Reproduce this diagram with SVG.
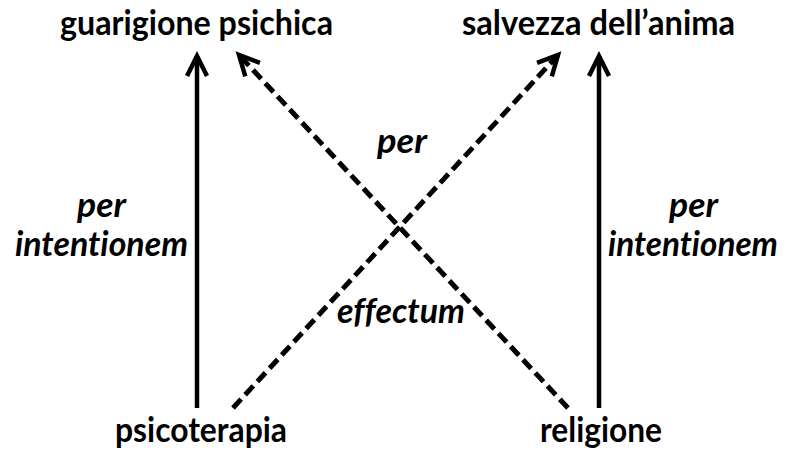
<svg xmlns="http://www.w3.org/2000/svg" width="786" height="452" viewBox="0 0 786 452">
  <style>
    .lbl { font-family: Lato, "Liberation Sans", sans-serif; font-weight: bold; font-size: 35px; fill: #000; font-variant-ligatures: none; font-feature-settings: "liga" 0, "clig" 0; }
    .it { font-style: italic; }
    .solid { stroke: #000; stroke-width: 4.5; fill: none; }
    .dash { stroke: #000; stroke-width: 5; fill: none; stroke-dasharray: 12 6; }
  </style>
  <defs>
    <marker id="arr" markerUnits="userSpaceOnUse" viewBox="-25 -15 30 30" refX="0" refY="0" markerWidth="30" markerHeight="30" orient="auto">
      <path d="M-20,-10 L0,0 L-20,10" fill="none" stroke="#000" stroke-width="4.5" stroke-linejoin="miter" stroke-miterlimit="10"/>
    </marker>
  </defs>
  <rect width="786" height="452" fill="#fff"/>

  <g id="connectors">
    <line class="solid" x1="197" y1="408" x2="197" y2="56" marker-end="url(#arr)"/>
    <line class="solid" x1="599" y1="408" x2="599" y2="56" marker-end="url(#arr)"/>
    <line class="dash" x1="233" y1="408" x2="558" y2="55" marker-end="url(#arr)"/>
    <line class="dash" x1="568" y1="408" x2="239" y2="55" marker-end="url(#arr)"/>
  </g>

  <g id="guarigione">
    <text class="lbl" x="60" y="35" textLength="273" lengthAdjust="spacingAndGlyphs">guarigione psichica</text>
  </g>
  <g id="salvezza">
    <text class="lbl" x="462" y="35" textLength="273" lengthAdjust="spacingAndGlyphs">salvezza dell’anima</text>
  </g>
  <g id="psicoterapia">
    <text class="lbl" x="115" y="442" textLength="172" lengthAdjust="spacingAndGlyphs">psicoterapia</text>
  </g>
  <g id="religione">
    <text class="lbl" x="540" y="442" textLength="122" lengthAdjust="spacingAndGlyphs">religione</text>
  </g>
  <g id="label-left">
    <text class="lbl it" x="77" y="217" textLength="49" lengthAdjust="spacingAndGlyphs">per</text>
    <text class="lbl it" x="15" y="256" textLength="173" lengthAdjust="spacingAndGlyphs">intentionem</text>
  </g>
  <g id="label-right">
    <text class="lbl it" x="669" y="217" textLength="49" lengthAdjust="spacingAndGlyphs">per</text>
    <text class="lbl it" x="608" y="256" textLength="170" lengthAdjust="spacingAndGlyphs">intentionem</text>
  </g>
  <g id="label-center">
    <text class="lbl it" x="377" y="153" textLength="50" lengthAdjust="spacingAndGlyphs">per</text>
    <text class="lbl it" x="337" y="323" textLength="128" lengthAdjust="spacingAndGlyphs">effectum</text>
  </g>
</svg>
